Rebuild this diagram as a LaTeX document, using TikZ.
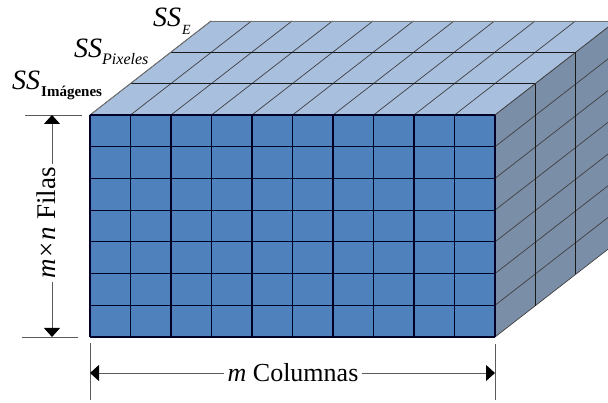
\documentclass[tikz,border=0pt]{standalone}
\usepackage{fontspec}
\setmainfont{Liberation Serif}
\usetikzlibrary{arrows.meta}
\definecolor{frontc}{RGB}{79,129,189}
\definecolor{topc}{RGB}{168,191,222}
\definecolor{sidec}{RGB}{122,142,168}
\definecolor{dimc}{RGB}{90,90,90}
\begin{document}
\begin{tikzpicture}[x=1pt,y=-1pt,
  gridf/.style={line width=1.1pt, black!85!blue},
  diag/.style={line width=0.7pt, black!75},
  layer/.style={line width=1pt, black!90},
  edgeline/.style={line width=0.8pt, black!55},
  dimline/.style={line width=0.8pt, dimc},
  tip/.style={-{Triangle[length=9pt,width=16pt,fill=black,color=black]}},
  lbl/.style={inner sep=0pt, anchor=base west}]
\useasboundingbox (0,0) rectangle (608,403);
\clip (0,0) rectangle (608,403);
% top face
\fill[topc] (90,115) -- (495,115) -- (616,21) -- (211,21) -- cycle;
\foreach \i in {0,...,10}
  \draw[diag] ({90+\i*40.5},115) -- ({211+\i*40.5},21);
\foreach \k in {1,2}
  \draw[layer] ({90+\k*40.33},{115-\k*31.33}) -- ({495+\k*40.33},{115-\k*31.33});
\draw[edgeline] (211,21) -- (616,21);
\draw[edgeline] (90,115) -- (211,21);
% right face
\fill[sidec] (495,115) -- (616,21) -- (616,243) -- (495,337) -- cycle;
\foreach \j in {0,...,7}
  \draw[diag] (495,{115+\j*31.714}) -- (616,{21+\j*31.714});
\foreach \k in {1,2}
  \draw[layer] ({495+\k*40.33},{115-\k*31.33}) -- ({495+\k*40.33},{337-\k*31.33});
% front face
\fill[frontc] (90,115) rectangle (495,337);
\foreach \i in {0,...,10}
  \draw[gridf] ({90+\i*40.5},115) -- ({90+\i*40.5},337);
\foreach \j in {0,...,7}
  \draw[gridf] (90,{115+\j*31.714}) -- (495,{115+\j*31.714});
% labels
\node[lbl] (sse) at (153,27) {\fontsize{28}{28}\selectfont\itshape SS\kern1pt\raisebox{-8pt}{\fontsize{14}{14}\selectfont E}};
\node[lbl] (ssp) at (74,58) {\fontsize{28}{28}\selectfont\itshape SS\raisebox{-7pt}{\fontsize{16}{16}\selectfont Pixeles}};
\node[lbl] (ssi) at (12,90) {\fontsize{28}{28}\selectfont\itshape SS\kern1pt\raisebox{-7pt}{\fontsize{15}{15}\selectfont\upshape\bfseries Imágenes}};
% vertical dimension
\draw[dimline] (25,115) -- (82,115);
\draw[dimline] (22,337) -- (78,337);
\coordinate (vt) at (52,115);
\coordinate (vb) at (52,337);
\coordinate (vm) at (52,225);
\draw[dimline,tip] (vm) -- (vt);
\draw[dimline,tip] (vm) -- (vb);
\node[fill=white, rotate=90, inner sep=3pt] (filas) at (46,223)
  {\fontsize{27}{27}\selectfont\textit{m}\kern2pt×\kern2pt\textit{n} Filas};
% horizontal dimension
\draw[dimline] (90,343) -- (90,400);
\draw[dimline] (495,344) -- (495,400);
\coordinate (hl) at (90,373);
\coordinate (hr) at (495,373);
\coordinate (hm) at (295,373);
\draw[dimline,tip] (hm) -- (hl);
\draw[dimline,tip] (hm) -- (hr);
\node[fill=white, inner sep=4pt] (cols) at (293,373)
  {\fontsize{26}{26}\selectfont\textit{m} Columnas};
\end{tikzpicture}
\end{document}
